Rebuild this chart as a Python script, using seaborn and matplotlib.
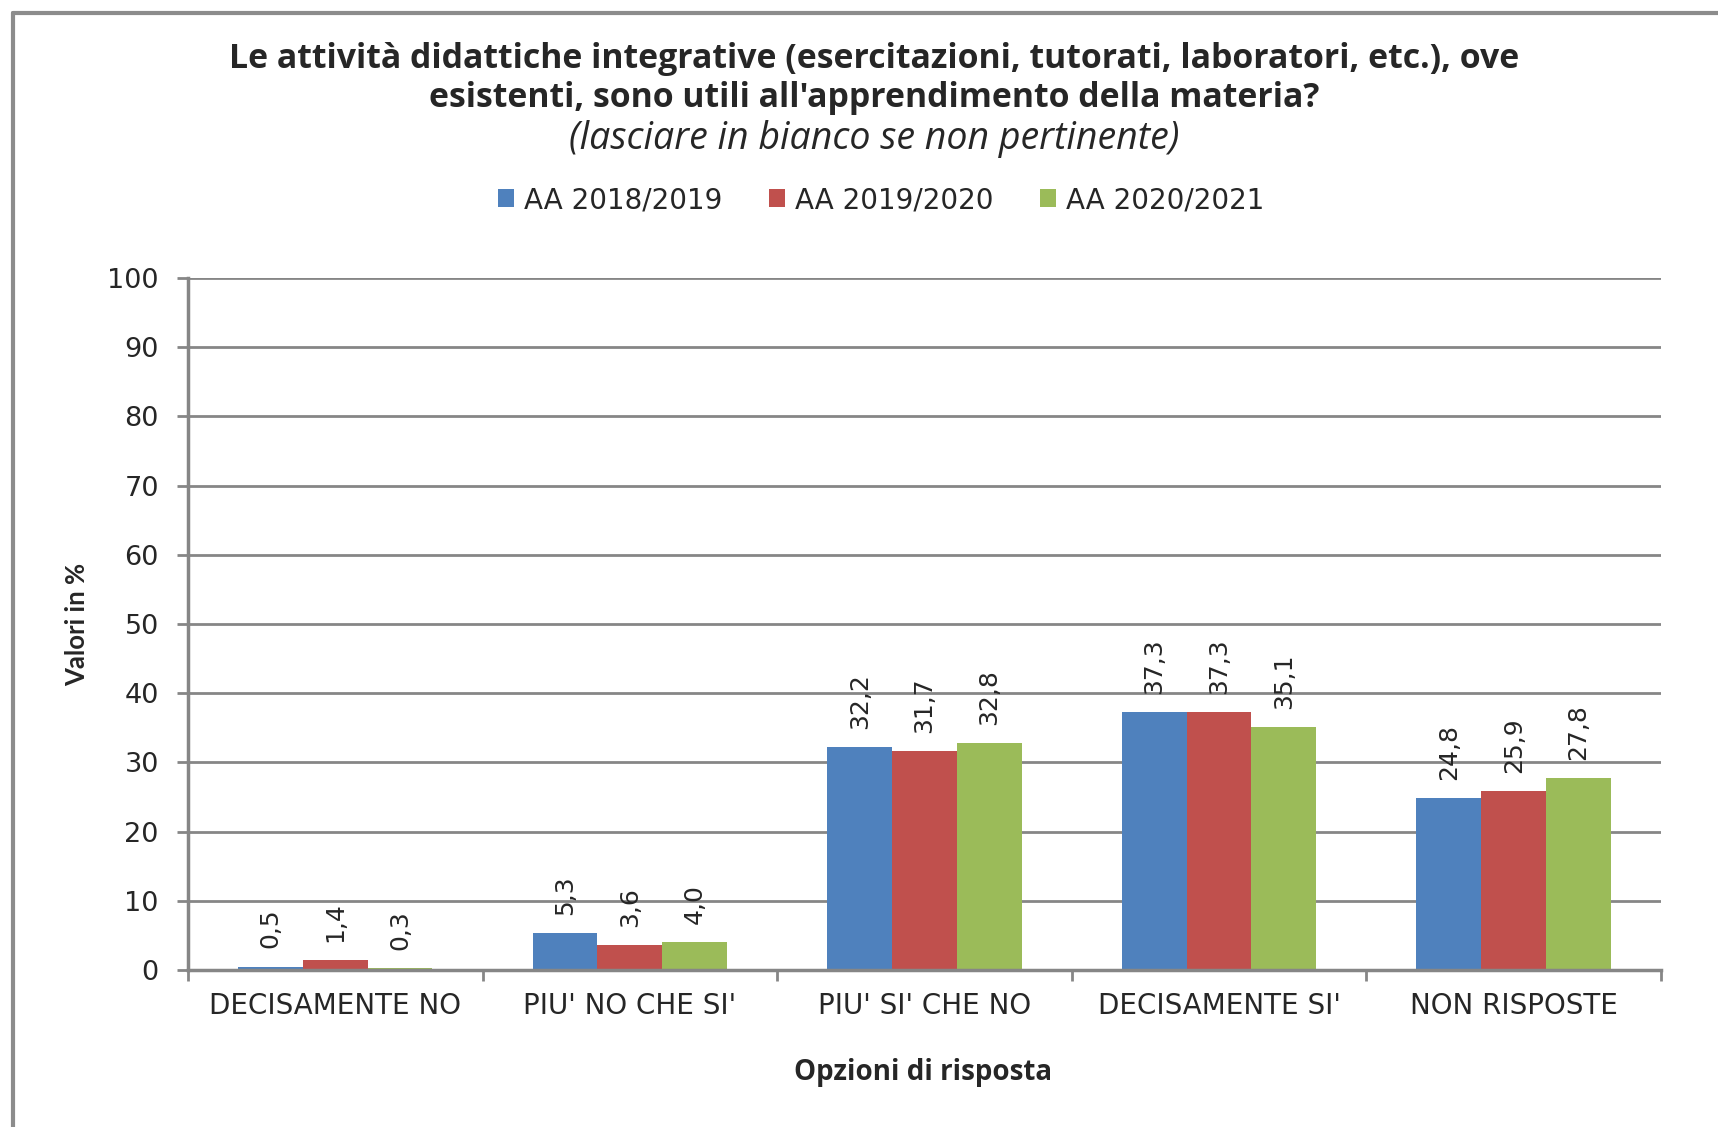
import numpy as np
import pandas as pd
import seaborn as sns
import matplotlib.pyplot as plt
from matplotlib.lines import Line2D

categorie = ["DECISAMENTE NO", "PIU' NO CHE SI'", "PIU' SI' CHE NO", "DECISAMENTE SI'", "NON RISPOSTE"]
anni = ["AA 2018/2019", "AA 2019/2020", "AA 2020/2021"]
valori_2018 = [0.5, 5.3, 32.2, 37.3, 24.8]
valori_2019 = [1.4, 3.6, 31.7, 37.3, 25.9]
valori_2020 = [0.3, 4.0, 32.8, 35.1, 27.8]
colori = ["#4F81BD", "#C0504D", "#9BBB59"]

df = pd.DataFrame({
    "opzione": categorie * 3,
    "anno": [anni[0]] * 5 + [anni[1]] * 5 + [anni[2]] * 5,
    "valore": valori_2018 + valori_2019 + valori_2020,
})

sns.set_style("white")
plt.rcParams['font.family'] = ['DejaVu Sans']

fig = plt.figure(figsize=(17.18, 11.27), dpi=100)
ax = fig.add_axes([0.1094, 0.1393, 0.8574, 0.614])

sns.barplot(data=df, x="opzione", y="valore", hue="anno", palette=colori,
            width=0.66, saturation=1, linewidth=0, ax=ax, legend=True)

# etichette sopra le barre, ruotate
for cont in ax.containers:
    etichette = [f"{b.get_height():.1f}".replace(".", ",") for b in cont]
    ax.bar_label(cont, labels=etichette, rotation=90, padding=13, fontsize=18)

ax.set_ylim(0, 100)
ax.set_xlim(-0.5, 4.5)
ax.set_yticks(range(0, 101, 10))
ax.yaxis.grid(True, color="#868686", linewidth=2)
ax.set_axisbelow(True)
for s in ["top", "right"]:
    ax.spines[s].set_visible(False)
for s in ["left", "bottom"]:
    ax.spines[s].set_color("#868686")
    ax.spines[s].set_linewidth(2.5)

ax.tick_params(axis="y", length=8, width=2, color="#868686", labelsize=19.5, pad=13, left=True)
ax.tick_params(axis="x", which="major", length=0, labelsize=20, pad=16)
ax.set_xticks(np.arange(-0.5, 5.0, 1.0), minor=True)
ax.tick_params(axis="x", which="minor", length=8, width=2, color="#868686", bottom=True)

ax.set_xlabel("Opzioni di risposta", fontsize=20, fontweight="bold", family="Open Sans")
ax.set_ylabel("Valori in %", fontsize=18.5, fontweight="bold", family="Lato")
ax.xaxis.set_label_coords(0.499, -0.127)
ax.yaxis.set_label_coords(-0.0673, 0.5)

ax.legend(loc="center", bbox_to_anchor=(0.5128, 0.8225), bbox_transform=fig.transFigure,
          ncol=3, frameon=False, fontsize=20, handlelength=0.6, handleheight=0.6,
          columnspacing=1.66, handletextpad=0.35)

fig.text(0.5088, 0.948, "Le attività didattiche integrative (esercitazioni, tutorati, laboratori, etc.), ove",
         ha="center", va="center", fontsize=24.4, fontweight="bold", family="Open Sans")
fig.text(0.5088, 0.913, "esistenti, sono utili all'apprendimento della materia?",
         ha="center", va="center", fontsize=24.4, fontweight="bold", family="Open Sans")
fig.text(0.5088, 0.877, "(lasciare in bianco se non pertinente)",
         ha="center", va="center", fontsize=27, style="italic", family="Open Sans")

# cornice del grafico (solo lati visibili)
fig.add_artist(Line2D([0.0076, 1.0], [0.9885, 0.9885], color="#8c8c8c", linewidth=3))
fig.add_artist(Line2D([0.0076, 0.0076], [0.0, 0.9885], color="#8c8c8c", linewidth=3))

fig.savefig("out.png", dpi=100, facecolor="white")
